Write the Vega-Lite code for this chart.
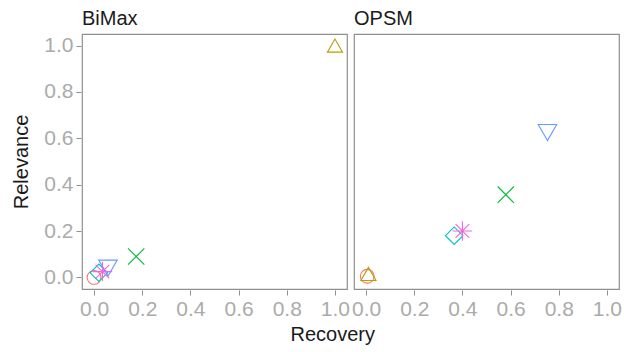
{
  "$schema": "https://vega.github.io/schema/vega-lite/v6.json",
  "padding": {"left": 11, "top": 9, "right": 2, "bottom": 4},
  "data": {"values": [
    {"dataset": "BiMax", "method": "M1", "recovery": 0.0, "relevance": 0.0},
    {"dataset": "BiMax", "method": "M2", "recovery": 1.0, "relevance": 1.0},
    {"dataset": "BiMax", "method": "M3", "recovery": 0.175, "relevance": 0.09},
    {"dataset": "BiMax", "method": "M4", "recovery": 0.02, "relevance": 0.02},
    {"dataset": "BiMax", "method": "M5", "recovery": 0.058, "relevance": 0.04},
    {"dataset": "BiMax", "method": "M6", "recovery": 0.035, "relevance": 0.025},
    {"dataset": "OPSM", "method": "M1", "recovery": 0.005, "relevance": 0.005},
    {"dataset": "OPSM", "method": "M2", "recovery": 0.01, "relevance": 0.015},
    {"dataset": "OPSM", "method": "M3", "recovery": 0.58, "relevance": 0.357},
    {"dataset": "OPSM", "method": "M4", "recovery": 0.366, "relevance": 0.18},
    {"dataset": "OPSM", "method": "M5", "recovery": 0.753, "relevance": 0.625},
    {"dataset": "OPSM", "method": "M6", "recovery": 0.4, "relevance": 0.2}
  ]},
  "facet": {
    "column": {"field": "dataset", "type": "nominal", "title": null,
      "header": {"labelAnchor": "start", "labelFontSize": 20, "labelFont": "Liberation Sans", "labelColor": "#1a1a1a", "labelPadding": 4}}
  },
  "spacing": 5,
  "spec": {
    "width": 265,
    "height": 255,
    "mark": {"type": "point", "filled": false, "strokeWidth": 1.1, "opacity": 1},
    "encoding": {
      "x": {"field": "recovery", "type": "quantitative", "title": null,
        "scale": {"domain": [-0.05, 1.05], "nice": false, "zero": false},
        "axis": {"values": [0, 0.2, 0.4, 0.6, 0.8, 1.0], "format": ".1f"}},
      "y": {"field": "relevance", "type": "quantitative", "title": "Relevance",
        "scale": {"domain": [-0.05, 1.05], "nice": false, "zero": false},
        "axis": {"values": [0, 0.2, 0.4, 0.6, 0.8, 1.0], "format": ".1f"}},
      "color": {"field": "method", "type": "nominal", "legend": null,
        "scale": {"domain": ["M1", "M2", "M3", "M4", "M5", "M6"], "range": ["#F8766D", "#B79F00", "#00BA38", "#00BFC4", "#619CFF", "#F564E3"]}},
      "shape": {"field": "method", "type": "nominal", "legend": null,
        "scale": {"domain": ["M1", "M2", "M3", "M4", "M5", "M6"], "range": ["circle", "triangle-up", "M-1,-1L1,1M-1,1L1,-1", "diamond", "triangle-down", "M-1,0L1,0M0,-1L0,1M-0.7,-0.7L0.7,0.7M-0.7,0.7L0.7,-0.7"]}},
      "size": {"field": "method", "type": "nominal", "legend": null,
        "scale": {"domain": ["M1", "M2", "M3", "M4", "M5", "M6"], "range": [190, 380, 200, 360, 400, 380]}}
    }
  },
  "title": {"text": "Recovery", "orient": "bottom", "anchor": "middle", "fontSize": 20, "fontWeight": "normal", "font": "Liberation Sans", "color": "#1a1a1a", "dx": 16, "offset": 6},
  "config": {
    "font": "Liberation Sans",
    "view": {"stroke": "#8f8f8f", "strokeWidth": 1.2},
    "axis": {
      "grid": false, "domain": false, "tickColor": "#8f8f8f", "tickSize": 5,
      "labelColor": "#ababab", "labelFontSize": 21, "labelFont": "Liberation Sans", "labelPadding": 3,
      "labelOverlap": false, "labelFlush": false,
      "titleFontSize": 20, "titleFontWeight": "normal", "titleColor": "#1a1a1a", "titleFont": "Liberation Sans", "titlePadding": 12
    }
  }
}
